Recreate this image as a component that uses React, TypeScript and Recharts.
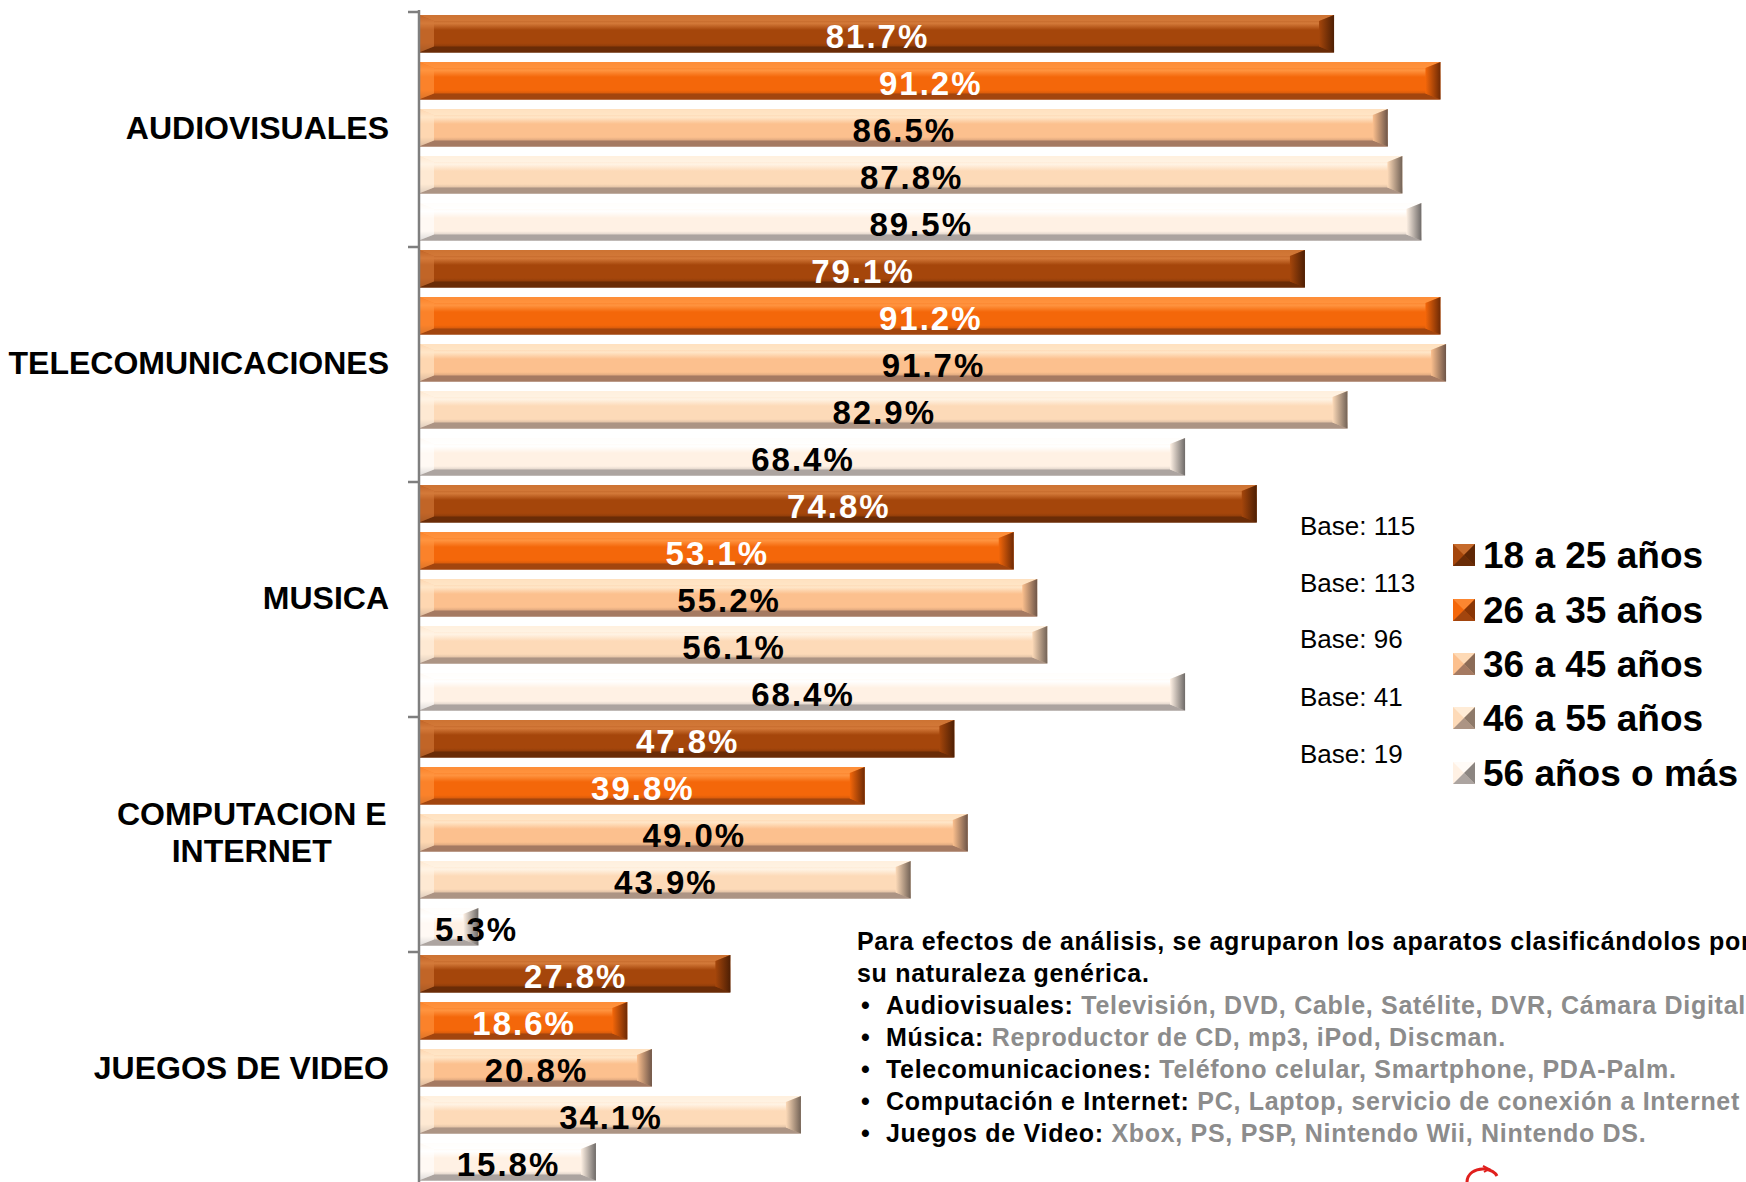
import React from 'react';
import { BarChart, Bar, XAxis, YAxis, Legend, LabelList } from 'recharts';

const categories = ['AUDIOVISUALES', 'TELECOMUNICACIONES', 'MUSICA', 'COMPUTACION E\nINTERNET', 'JUEGOS DE VIDEO'];
const seriesNames = ['18 a 25 años', '26 a 35 años', '36 a 45 años', '46 a 55 años', '56 años o más'];
const age18to25 = [81.7, 79.1, 74.8, 47.8, 27.8];
const age26to35 = [91.2, 91.2, 53.1, 39.8, 18.6];
const age36to45 = [86.5, 91.7, 55.2, 49.0, 20.8];
const age46to55 = [87.8, 82.9, 56.1, 43.9, 34.1];
const age56plus = [89.5, 68.4, 68.4, 5.3, 15.8];
const baseLabels = ['Base: 115', 'Base: 113', 'Base: 96', 'Base: 41', 'Base: 19'];

const noteIntro = ['Para efectos de análisis, se agruparon los aparatos clasificándolos por', 'su naturaleza genérica.'];
const noteGroups = ['Audiovisuales:', 'Música:', 'Telecomunicaciones:', 'Computación e Internet:', 'Juegos de Video:'];
const noteItems = [
  'Televisión, DVD, Cable, Satélite, DVR, Cámara Digital',
  'Reproductor de CD, mp3, iPod, Discman.',
  'Teléfono celular, Smartphone, PDA-Palm.',
  'PC, Laptop, servicio de conexión a Internet',
  'Xbox, PS, PSP, Nintendo Wii, Nintendo DS.',
];

const seriesValues = [age18to25, age26to35, age36to45, age46to55, age56plus];
const data = categories.map((name, i) => {
  const row: any = { name };
  seriesValues.forEach((arr, s) => { row['s' + s] = arr[i]; });
  return row;
});

const FONT = '"Liberation Sans", Arial, Helvetica, sans-serif';

const palette = [
  { base: '#A5460B', light: '#D47A3A', dark: '#6A2C07', end: '#4E1F04', label: '#FFFFFF' },
  { base: '#F4670A', light: '#FF9440', dark: '#A2450E', end: '#6E2A05', label: '#FFFFFF' },
  { base: '#FCC08E', light: '#FFE6C8', dark: '#A57A62', end: '#6E5548', label: '#000000' },
  { base: '#FDDAB8', light: '#FFF3E4', dark: '#AC9484', end: '#726256', label: '#000000' },
  { base: '#FFF1E4', light: '#FFFFFF', dark: '#ACA4A0', end: '#6E6A68', label: '#000000' },
];

const AXIS_X = 419;
const BAND = 235;

const makeShape = (s: number) => (props: any) => {
  const { x, y, width, height } = props;
  if (!width || width <= 0) return <g />;
  const c = palette[s];
  const bx = Math.min(15, width / 3);
  const by = 6;
  const r = x + width;
  const b = y + height;
  return (
    <g>
      <rect x={x} y={y} width={width} height={height} fill={`url(#body${s})`} />
      <polygon points={`${x},${y} ${r},${y} ${r - bx},${y + by} ${x + bx},${y + by}`} fill={c.light} opacity={0.85} />
      <polygon points={`${x},${b} ${r},${b} ${r - bx},${b - by} ${x + bx},${b - by}`} fill={c.dark} />
      <polygon points={`${x},${y} ${x + bx},${y + by} ${x + bx},${b - by} ${x},${b}`} fill={c.light} opacity={0.6} />
      <polygon points={`${r},${y} ${r},${b} ${r - bx},${b - by} ${r - bx},${y + by}`} fill={`url(#end${s})`} />
    </g>
  );
};

const LABEL_FS = 33;
const LABEL_LS = 2;

const textWidth = (t: string, fs: number) => {
  let w = 0;
  for (const ch of t) {
    if (ch === '.') w += 0.278;
    else if (ch === '%') w += 0.889;
    else w += 0.556;
  }
  return w * fs + LABEL_LS * t.length;
};

const makeLabel = (s: number) => (props: any) => {
  const { x, y, width, height, value } = props;
  const txt = Number(value).toFixed(1) + '%';
  const tw = textWidth(txt, LABEL_FS);
  const cx = Math.max(x + width / 2, x + 15 + tw / 2);
  return (
    <text
      x={cx + LABEL_LS / 2}
      y={y + height / 2 + 14}
      textAnchor="middle"
      fontFamily={FONT}
      fontWeight="bold"
      fontSize={LABEL_FS}
      letterSpacing={LABEL_LS}
      fill={palette[s].label}
    >
      {txt}
    </text>
  );
};

const CatTick = (props: any) => {
  const { x, y, payload } = props;
  const idx = payload && payload.index !== undefined ? payload.index : props.index;
  const lines = String(payload.value).split('\n');
  const fs = 32;
  const right = x - 30;
  const half = BAND / 2;
  const marks = [
    <line key="t" x1={x - 11} y1={y - half + 2} x2={x} y2={y - half + 2} stroke="#7F7F7F" strokeWidth={2.5} />,
  ];
  if (idx === categories.length - 1) {
    marks.push(<line key="b" x1={x - 11} y1={y + half} x2={x} y2={y + half} stroke="#7F7F7F" strokeWidth={2.5} />);
  }
  if (lines.length === 1) {
    return (
      <g>
        {marks}
        <text x={right} y={y + 11} textAnchor="end" fontFamily={FONT} fontWeight="bold" fontSize={fs} fill="#000">
          {lines[0]}
        </text>
      </g>
    );
  }
  const maxLen = Math.max(...lines.map((l) => l.length));
  const cx = right - (maxLen * 0.66 * fs) / 2;
  return (
    <g>
      {marks}
      {lines.map((l, i) => (
        <text key={i} x={cx} y={y + 11 + (i - (lines.length - 1) / 2) * 37} textAnchor="middle" fontFamily={FONT} fontWeight="bold" fontSize={fs} fill="#000">
          {l}
        </text>
      ))}
    </g>
  );
};

const LegendContent = (props: any) => {
  const payload = props.payload || [];
  const items = seriesNames.map((n, i) => {
    const p = payload.find((q: any) => q.dataKey === 's' + i);
    return { name: p ? p.value : n, i };
  });
  return (
    <svg width={456} height={300} style={{ display: 'block', overflow: 'visible' }}>
      {baseLabels.map((b, i) => (
        <text key={'b' + i} x={10} y={[26, 83, 139, 197, 254][i] + 9} fontFamily={FONT} fontSize={26} fill="#000">
          {b}
        </text>
      ))}
      {items.map(({ name, i }) => {
        const cy = [55, 110, 164, 218, 273][i];
        const c = palette[i];
        return (
          <g key={'l' + i}>
            <rect x={163} y={cy - 11} width={22} height={22} fill={c.base} />
            <polygon points={`${163},${cy - 11} ${185},${cy - 11} ${174},${cy}`} fill={c.light} opacity={0.7} />
            <polygon points={`${163},${cy + 11} ${185},${cy + 11} ${174},${cy}`} fill={c.dark} />
            <polygon points={`${185},${cy - 11} ${185},${cy + 11} ${174},${cy}`} fill={c.end} opacity={0.8} />
            <text x={193} y={cy + 13} fontFamily={FONT} fontWeight="bold" fontSize={37} fill="#000">
              {name}
            </text>
          </g>
        );
      })}
    </svg>
  );
};

export default function App() {
  return (
    <div style={{ position: 'absolute', left: 0, top: 0, width: 1746, height: 1182, overflow: 'hidden', background: '#fff' }}>
      <BarChart
        width={1746}
        height={1185}
        data={data}
        layout="vertical"
        margin={{ top: 10, right: 207, bottom: 0, left: 0 }}
        barSize={37.5}
        barGap={9.5}
        barCategoryGap={0}
      >
        <defs>
          {palette.map((c, s) => (
            <linearGradient key={'g' + s} id={`body${s}`} x1="0" y1="0" x2="0" y2="1">
              <stop offset="0%" stopColor={c.base} />
              <stop offset="22%" stopColor={c.light} />
              <stop offset="40%" stopColor={c.base} />
              <stop offset="75%" stopColor={c.base} />
              <stop offset="100%" stopColor={c.dark} />
            </linearGradient>
          ))}
          {palette.map((c, s) => (
            <linearGradient key={'e' + s} id={`end${s}`} x1="0" y1="0" x2="1" y2="0">
              <stop offset="0%" stopColor={c.base} />
              <stop offset="100%" stopColor={c.end} />
            </linearGradient>
          ))}
        </defs>
        <XAxis type="number" domain={[0, 100]} hide />
        <YAxis
          type="category"
          dataKey="name"
          width={AXIS_X}
          tickSize={0}
          tickMargin={0}
          tickLine={false}
          axisLine={{ stroke: '#7F7F7F', strokeWidth: 2.5 }}
          tick={<CatTick />}
          interval={0}
        />
        <Legend
          layout="horizontal"
          verticalAlign="middle"
          align="center"
          content={<LegendContent />}
          wrapperStyle={{ position: 'absolute', left: 1290, top: 500, width: 456, height: 300 }}
        />
        {seriesNames.map((n, s) => (
          <Bar key={n} dataKey={'s' + s} name={n} fill={palette[s].base} isAnimationActive={false} shape={makeShape(s)}>
            <LabelList dataKey={'s' + s} content={makeLabel(s)} />
          </Bar>
        ))}
      </BarChart>
      <div
        style={{
          position: 'absolute',
          left: 857,
          top: 925,
          fontFamily: FONT,
          fontWeight: 'bold',
          fontSize: 25,
          letterSpacing: '0.7px',
          lineHeight: '32px',
          whiteSpace: 'nowrap',
          color: '#000',
        }}
      >
        {noteIntro.map((t, i) => (
          <div key={'i' + i}>{t}</div>
        ))}
        {noteGroups.map((g, i) => (
          <div key={'g' + i}>
            <span style={{ display: 'inline-block', width: 25, paddingLeft: 4 }}>•</span>
            <span>{g} </span>
            <span style={{ color: '#8C8C8C' }}>{noteItems[i]}</span>
          </div>
        ))}
      </div>
      <svg style={{ position: 'absolute', left: 1455, top: 1160 }} width={60} height={22}>
        <path d="M12,22 C12,14 20,8 30,9 C36,10 40,12 42,16" stroke="#E0201E" strokeWidth={3} fill="none" />
        <path d="M28,6 L34,9 L29,12" stroke="#E0201E" strokeWidth={2} fill="none" />
      </svg>
    </div>
  );
}
